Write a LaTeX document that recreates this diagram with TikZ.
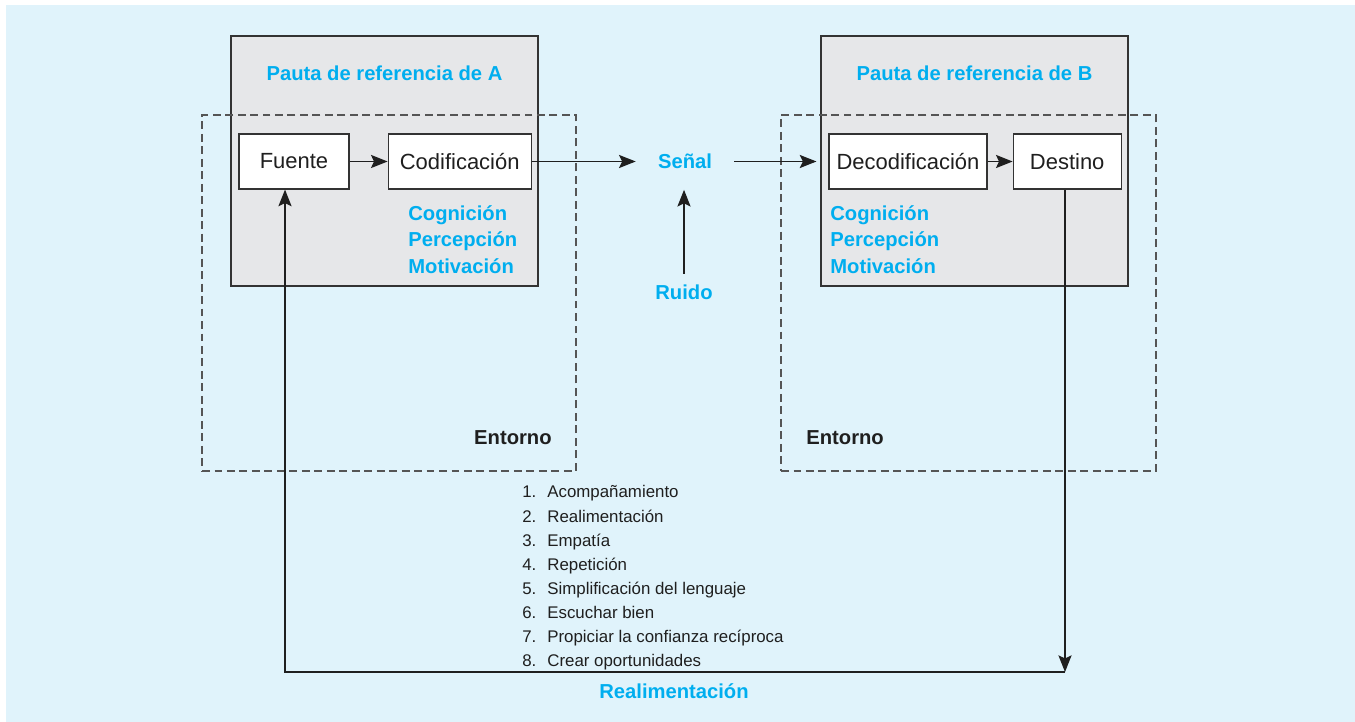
\documentclass[tikz,border=0pt]{standalone}
\usepackage{fontspec}
\setmainfont{Liberation Sans}
\usetikzlibrary{arrows.meta,positioning}
\definecolor{cmBg}{HTML}{E0F3FB}
\definecolor{cmGray}{HTML}{E6E7E9}
\definecolor{cmCyan}{HTML}{00AEEF}
\definecolor{cmLine}{HTML}{333333}
\definecolor{cmDash}{HTML}{555555}
\tikzset{
  %% Frames of reference and environments
  cmFrame/.style={draw=cmLine, fill=cmGray, line width=0.7pt,
    minimum width=6.14cm, minimum height=5cm, inner sep=0pt},
  cmEnv/.style={draw=cmDash, dash pattern=on 4.5pt off 2.6pt, line width=0.7pt,
    minimum height=7.12cm, inner sep=0pt},
  %% Process boxes
  cmBox/.style={draw=cmLine, fill=white, line width=0.7pt,
    minimum height=1.1cm, inner sep=0pt,
    font=\fontsize{12.5}{15}\selectfont, text=black!88},
  %% Labels
  cmLab/.style={font=\fontsize{11.5}{14}\selectfont\bfseries, text=cmCyan, inner sep=0pt},
  cmEnt/.style={font=\fontsize{11.5}{14}\selectfont\bfseries, text=black!88, inner sep=0pt},
  cmItem/.style={font=\fontsize{9.6}{12}\selectfont, text=black!88, inner sep=0pt, anchor=base west},
  %% Arrows
  cmArrow/.style={-{Stealth[length=9.5pt, width=7.5pt, inset=1.8pt]}, line width=0.65pt, draw=black!88},
}

\begin{document}
\begin{tikzpicture}[x=0.02cm, y=-0.02cm]
\useasboundingbox (0,0) rectangle (1355,722);
\fill[cmBg] (6,5) rectangle (1355,722);

%% Frames of reference
\node[cmFrame] (frA) at (384.5,161) {};
\node[cmFrame] (frB) at (974.5,161) {};
\node[cmLab, anchor=base] (pautaA) at (384.5,81) {Pauta de referencia de A};
\node[cmLab, anchor=base] (pautaB) at (974.5,81) {Pauta de referencia de B};

%% Environments
\node[cmEnv, minimum width=7.48cm] (envA) at (389,293) {};
\node[cmEnv, minimum width=7.5cm]  (envB) at (968.5,293) {};
\node[cmEnt, anchor=base east] (entA) at (552,445) {Entorno};
\node[cmEnt, anchor=base west] (entB) at (806,445) {Entorno};

%% Process boxes
\node[cmBox, minimum width=2.2cm]  (fue) at (294,161.5) {Fuente};
\node[cmBox, minimum width=2.86cm, right=0.76cm of fue] (cod) {Codificación};
\node[cmBox, minimum width=3.16cm] (dec) at (908,161.5) {Decodificación};
\node[cmBox, minimum width=2.16cm, right=0.5cm of dec] (des) {Destino};

%% Cognition labels
\node[cmLab, anchor=base west] (cogA) at (408,221) {Cognición};
\node[cmLab, anchor=base west] (perA) at (408,247) {Percepción};
\node[cmLab, anchor=base west] (motA) at (408,274) {Motivación};
\node[cmLab, anchor=base west] (cogB) at (830,221) {Cognición};
\node[cmLab, anchor=base west] (perB) at (830,247) {Percepción};
\node[cmLab, anchor=base west] (motB) at (830,274) {Motivación};

%% Signal and noise
\node[cmLab, minimum width=1.96cm, minimum height=1.12cm] (sen) at (685,161.5) {Señal};
\node[cmLab, minimum height=0.72cm] (rui) at (684,292) {Ruido};

\draw[cmArrow] (fue) -- (cod);
\draw[cmArrow] (cod) -- (sen);
\draw[cmArrow, shorten >=0.24cm] (sen) -- (dec);
\draw[cmArrow] (dec) -- (des);
\draw[cmArrow] (rui.north) -- (rui.north |- sen.south);

%% Feedback loop
\coordinate (fbR) at (1065,672);
\coordinate (fbL) at (285,672);
\draw[cmArrow] (des.south -| fbR) -- (fbR);
\draw[cmArrow] (fbR) -- (fbL) -- (fbL |- fue.south);
\node[cmLab, anchor=base] (realim) at (674,698) {Realimentación};

%% Feedback techniques
\foreach \n/\txt [count=\i from 0] in {1/Acompañamiento, 2/Realimentación, 3/Empatía,
    4/Repetición, 5/Simplificación del lenguaje, 6/Escuchar bien,
    7/Propiciar la confianza recíproca, 8/Crear oportunidades}
{
  \node[cmItem] (num\n)  at (522,498+24*\i) {\n.};
  \node[cmItem] (item\n) at (547,498+24*\i) {\txt};
}

\end{tikzpicture}
\end{document}
